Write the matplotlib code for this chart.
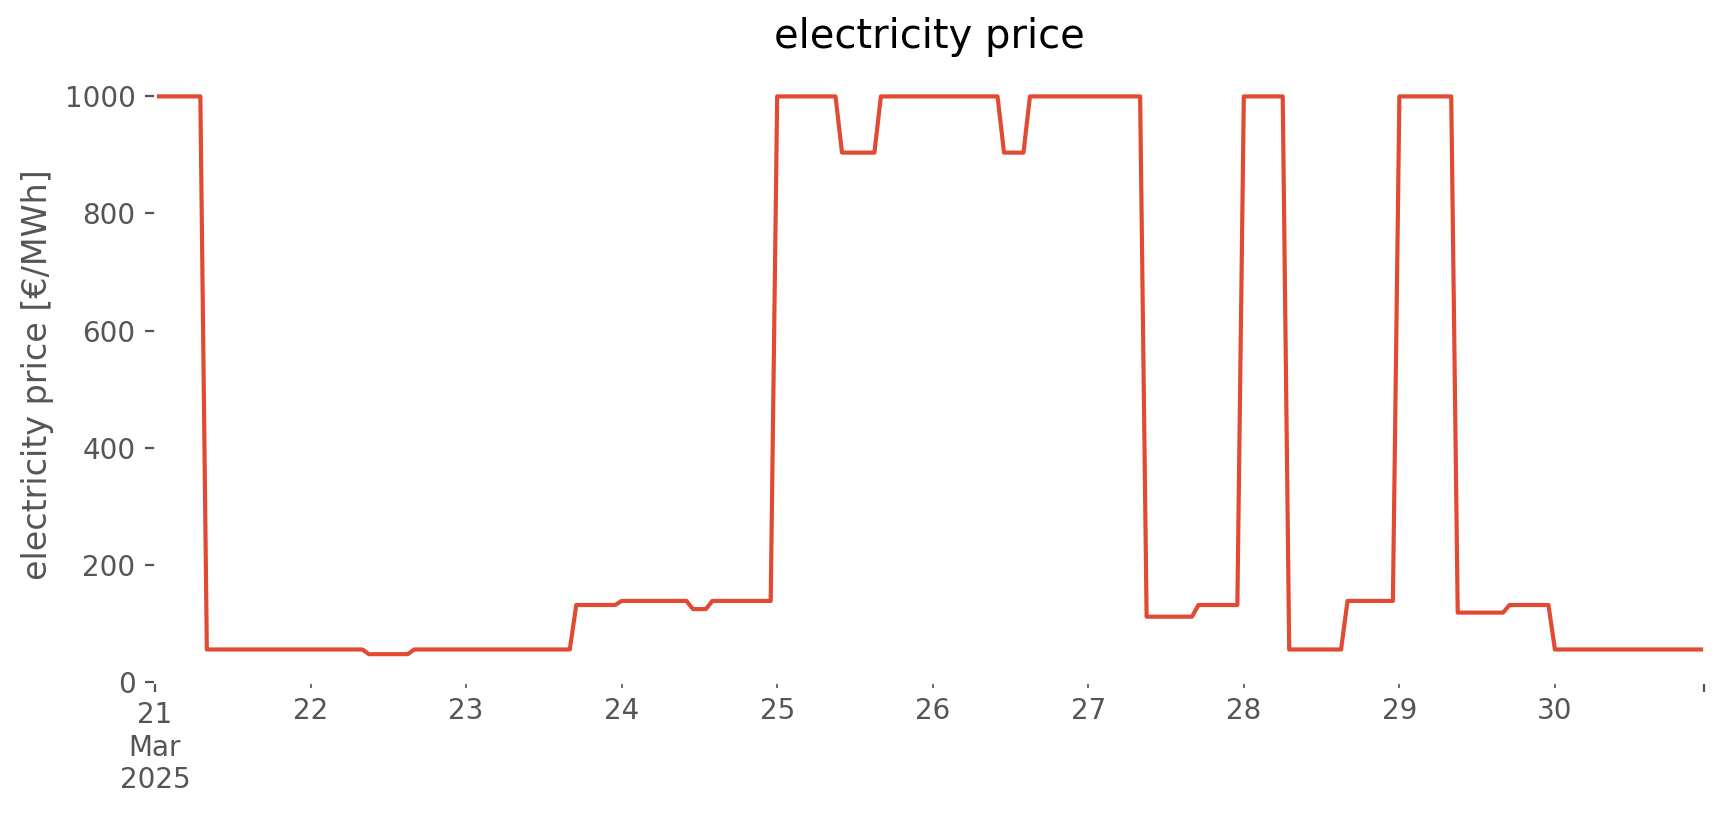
import numpy as np
import pandas as pd
import matplotlib
matplotlib.use("Agg")
import matplotlib.pyplot as plt

run_prices = [1000, 55, 47, 55, 131, 138, 124, 138, 1000, 904, 1000, 904, 1000,
              111, 131, 1000, 55, 138, 1000, 118, 131, 55]
run_hours = [8, 25, 7, 25, 7, 11, 3, 10, 10, 6, 19, 4, 18,
             8, 7, 7, 9, 8, 9, 8, 7, 24]
start = "2025-03-21 00:00"

values = np.repeat(run_prices, run_hours).astype(float)
index = pd.date_range(start, periods=len(values), freq="h")
series = pd.Series(values, index=index)

plt.style.use("ggplot")
plt.rcParams["axes.facecolor"] = "white"
plt.rcParams["axes.grid"] = False

fig = plt.figure(figsize=(8.62, 4.075), dpi=200)
ax = fig.add_axes([0.0899, 0.1636, 0.8985, 0.7523])
series.plot(ax=ax)
ax.set_ylim(bottom=0)
ax.set_title("electricity price", color="black", pad=7.3)
ax.set_ylabel("electricity price [€/MWh]")
ax.set_xlabel("")

fig.savefig("out.png", dpi=200)
